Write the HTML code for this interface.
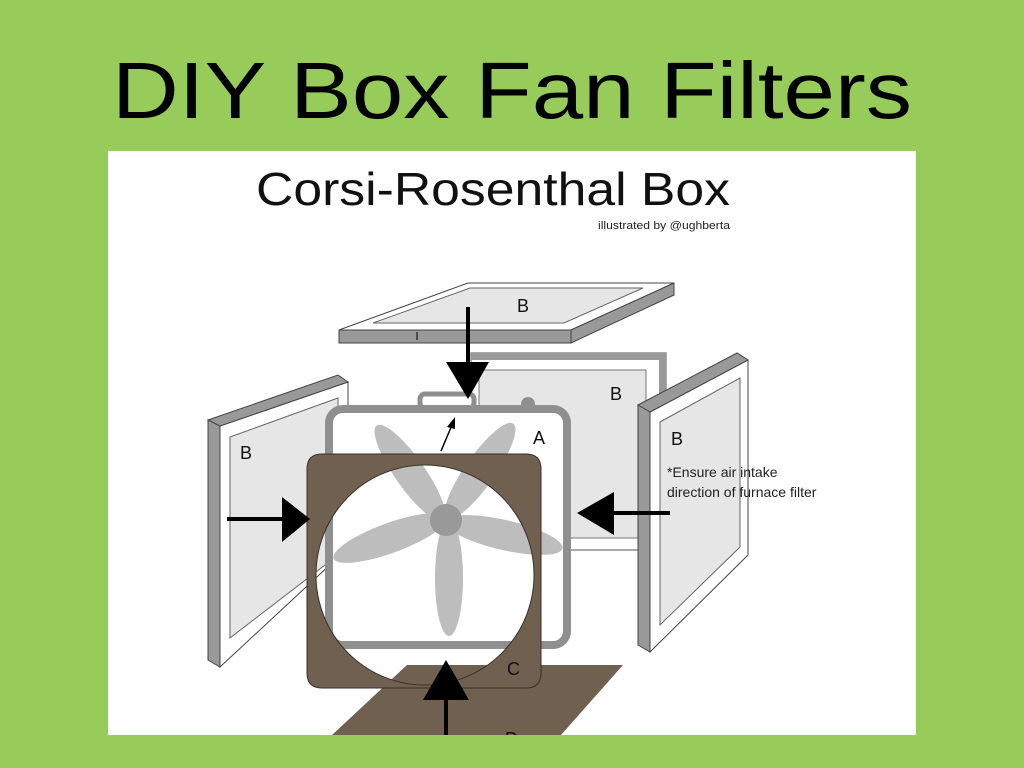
<!DOCTYPE html>
<html><head><meta charset="utf-8"><style>
html,body{margin:0;padding:0;background:#97cc5a;}
svg{display:block;}
</style></head><body>
<svg width="1024" height="768" viewBox="0 0 1024 768" xmlns="http://www.w3.org/2000/svg" font-family="Liberation Sans, sans-serif">
<defs><clipPath id="pc"><rect x="108" y="151" width="808" height="584"/></clipPath></defs>
<rect width="1024" height="768" fill="#97cc5a"/>
<text x="112" y="118" font-size="80" fill="#000" textLength="800" lengthAdjust="spacingAndGlyphs">DIY Box Fan Filters</text>
<rect x="108" y="151" width="808" height="584" fill="#fff"/>
<text x="256" y="205" font-size="46" fill="#111" textLength="474" lengthAdjust="spacingAndGlyphs">Corsi-Rosenthal Box</text>
<text x="598" y="229" font-size="11" fill="#222" textLength="132" lengthAdjust="spacingAndGlyphs">illustrated by @ughberta</text>

<g clip-path="url(#pc)">
<!-- back panel -->
<rect x="471" y="353" width="195" height="197" fill="#fff" stroke="#555" stroke-width="1"/>
<rect x="471" y="353" width="195" height="7" fill="#999"/>
<rect x="659" y="353" width="7" height="197" fill="#999"/>
<rect x="479" y="370" width="167" height="168" fill="#e6e6e6" stroke="#777" stroke-width="1"/>
<text x="610" y="400" font-size="18" fill="#111">B</text>

<!-- top panel -->
<polygon points="339,330 468,283 674,283 571,330" fill="#fff" stroke="#444" stroke-width="1"/>
<polygon points="373,323 470,288 643,288 564,323" fill="#e6e6e6" stroke="#666" stroke-width="1"/>
<polygon points="339,330 571,330 571,343 339,343" fill="#999" stroke="#444" stroke-width="1"/>
<polygon points="571,330 674,283 674,295 571,343" fill="#999" stroke="#444" stroke-width="1"/>
<text x="517" y="312" font-size="18" fill="#111">B</text>
<line x1="417" y1="332" x2="417" y2="340" stroke="#000" stroke-width="1"/>

<!-- left panel -->
<polygon points="220,426 348,382 348,548 220,667" fill="#fff" stroke="#444" stroke-width="1"/>
<polygon points="230,437 338,398 338,555 230,638" fill="#e6e6e6" stroke="#666" stroke-width="1"/>
<polygon points="208,420 338,375 348,382 220,426" fill="#999" stroke="#444" stroke-width="1"/>
<polygon points="208,420 220,426 220,667 208,660" fill="#999" stroke="#444" stroke-width="1"/>
<text x="240" y="459" font-size="18" fill="#111">B</text>

<!-- right panel -->
<polygon points="650,412 748,360 748,555 650,652" fill="#fff" stroke="#444" stroke-width="1"/>
<polygon points="660,422 740,378 740,547 660,625" fill="#e6e6e6" stroke="#666" stroke-width="1"/>
<polygon points="638,405 737,353 748,360 650,412" fill="#999" stroke="#444" stroke-width="1"/>
<polygon points="638,405 650,412 650,652 638,645" fill="#999" stroke="#444" stroke-width="1"/>
<text x="671" y="445" font-size="18" fill="#111">B</text>
<text x="667" y="477" font-size="14" fill="#222">*Ensure air intake</text>
<text x="667" y="497" font-size="14" fill="#222">direction of furnace filter</text>

<!-- D -->
<polygon points="407,665 623,665 561,735 332,735" fill="#6f6050"/>
<text x="505" y="745" font-size="18" fill="#111">D</text>

<!-- fan box -->
<rect x="420" y="394" width="54" height="14" rx="5" fill="#fff" stroke="#8f8f8f" stroke-width="5"/>
<circle cx="528" cy="404" r="7" fill="#8f8f8f"/>
<rect x="329" y="409" width="238" height="236" rx="14" fill="#fff" stroke="#8f8f8f" stroke-width="8"/>
<g fill="#bdbdbd">
<ellipse cx="410" cy="473" rx="15" ry="58" transform="rotate(-35 410 473)"/>
<ellipse cx="480" cy="471" rx="15" ry="58" transform="rotate(35 480 471)"/>
<ellipse cx="390" cy="538" rx="15" ry="60" transform="rotate(70 390 538)"/>
<ellipse cx="504" cy="535" rx="15" ry="60" transform="rotate(-77 504 535)"/>
<ellipse cx="449" cy="578" rx="14" ry="58"/>
</g>
<circle cx="446" cy="520" r="16" fill="#999"/>
<text x="533" y="444" font-size="18" fill="#111">A</text>
<line x1="441" y1="451" x2="452" y2="425" stroke="#000" stroke-width="1.5"/>
<polygon points="455,417 447,427 455,429" fill="#000"/>

<!-- brown C -->
<path fill-rule="evenodd" fill="#6f6050" stroke="#3a3028" stroke-width="1" d="M322,454 H526 Q541,454 541,469 V673 Q541,688 526,688 H322 Q307,688 307,673 V469 Q307,454 322,454 Z M316,575 A109,110 0 1,0 534,575 A109,110 0 1,0 316,575 Z"/>
<text x="507" y="675" font-size="18" fill="#111">C</text>

<!-- arrows -->
<line x1="468" y1="307" x2="468" y2="368" stroke="#000" stroke-width="4"/>
<polygon points="446,362 489,362 468,399" fill="#000"/>
<line x1="227" y1="519" x2="286" y2="519" stroke="#000" stroke-width="4"/>
<polygon points="282,497 282,542 310,519" fill="#000"/>
<line x1="670" y1="513" x2="610" y2="513" stroke="#000" stroke-width="4"/>
<polygon points="614,492 614,535 577,513" fill="#000"/>
<line x1="446" y1="735" x2="446" y2="695" stroke="#000" stroke-width="4"/>
<polygon points="423,700 469,700 446,660" fill="#000"/>
</g>
</svg>
</body></html>
